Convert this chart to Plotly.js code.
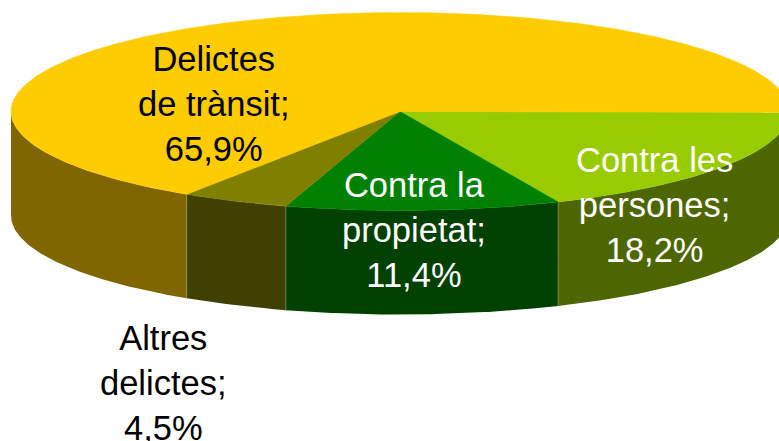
<!DOCTYPE html>
<html>
<head>
<meta charset="utf-8">
<script src="https://cdn.plot.ly/plotly-3.0.1.min.js"></script>
<style>html,body{margin:0;padding:0;background:#fff}#c{width:779px;height:441px}</style>
</head>
<body>
<div id="c"></div>
<script>
// Data, clockwise from 3 o'clock
const categories = ["Contra les persones", "Contra la propietat", "Altres delictes", "Delictes de trànsit"];
const values = [18.2, 11.4, 4.5, 65.9];
const valueLabels = ["18,2%", "11,4%", "4,5%", "65,9%"];
const labelLines = [["Contra les", "persones;"], ["Contra la", "propietat;"], ["Altres", "delictes;"], ["Delictes", "de trànsit;"]];
const topColors = ["#99CC00", "#008000", "#808000", "#FFCC00"];
const sideColors = ["#4D6600", "#004000", "#404000", "#806600"];
const labelColors = ["#ffffff", "#ffffff", "#000000", "#000000"];
const labelX = [654, 414, 163, 214];
const labelY = [204.5, 230, 382.5, 103.5];

// Pie projection
const cx = 400, cy = 111.5, rx = 389, ry = 99, depth = 104;
const startAngle = 0.5 * Math.PI / 180;
const total = values.reduce((a, b) => a + b, 0);
const px = a => cx + rx * Math.cos(a);
const py = a => cy + ry * Math.sin(a);
function arc(a, b) {
  const n = Math.max(2, Math.ceil((b - a) / 0.01));
  const out = [];
  for (let i = 0; i <= n; i++) out.push(a + (b - a) * i / n);
  return out;
}

const sideTraces = [], topTraces = [], edgeTraces = [];
let acc = 0;
values.forEach((v, i) => {
  const a = startAngle + acc / total * 2 * Math.PI;
  acc += v;
  const b = startAngle + acc / total * 2 * Math.PI;
  // top surface wedge
  const t = arc(a, b);
  topTraces.push({
    type: "scatter", mode: "lines", fill: "toself", fillcolor: topColors[i],
    line: {width: 0.6, color: topColors[i]}, hoverinfo: "skip", name: categories[i],
    x: [cx, ...t.map(px), cx], y: [cy, ...t.map(py), cy]
  });
  // visible front wall (lower half of the ellipse only)
  const sb = Math.min(b, Math.PI);
  if (a < Math.PI) {
    const s = arc(a, sb);
    sideTraces.push({
      type: "scatter", mode: "lines", fill: "toself", fillcolor: sideColors[i],
      line: {width: 0, color: sideColors[i]}, hoverinfo: "skip", name: categories[i],
      x: [...s.map(px), ...s.slice().reverse().map(px)],
      y: [...s.map(py), ...s.slice().reverse().map(q => py(q) + depth)]
    });
    if (b < Math.PI) {
      edgeTraces.push({
        type: "scatter", mode: "lines", line: {width: 1, color: "rgba(150,150,120,0.6)"},
        hoverinfo: "skip", x: [px(b), px(b)], y: [py(b), py(b) + depth]
      });
    }
  }
});

const annotations = categories.map((c, i) => ({
  x: labelX[i], y: labelY[i], xref: "x", yref: "y", showarrow: false,
  text: [...labelLines[i], valueLabels[i]].join("<br>"),
  align: "center", xanchor: "center", yanchor: "middle",
  font: {family: "Liberation Sans, Arial, sans-serif", size: 34.5, color: labelColors[i]}
}));

Plotly.newPlot("c", [...sideTraces, ...edgeTraces, ...topTraces], {
  width: 779, height: 441,
  margin: {l: 0, r: 0, t: 0, b: 0},
  paper_bgcolor: "#ffffff", plot_bgcolor: "#ffffff",
  showlegend: false,
  xaxis: {range: [0, 779], visible: false, fixedrange: true},
  yaxis: {range: [441, 0], visible: false, fixedrange: true},
  annotations
}, {displayModeBar: false, staticPlot: true});
</script>
</body>
</html>
